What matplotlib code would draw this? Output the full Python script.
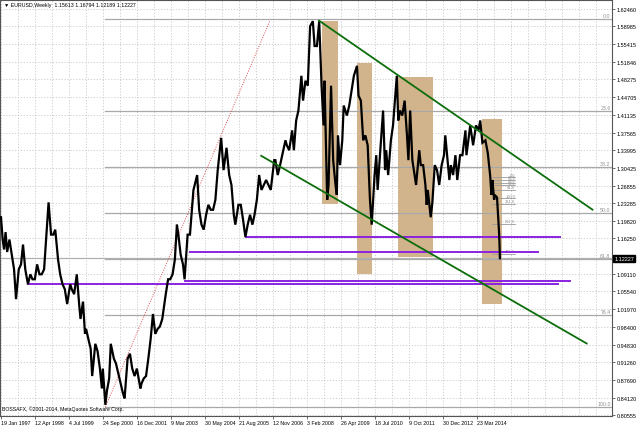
import matplotlib
matplotlib.use("Agg")
import matplotlib.pyplot as plt
import pandas as pd

START = pd.Timestamp("1997-01-19")


def wk(d):
    return (pd.Timestamp(d) - START).days / 7.0


# ---------------- data ----------------
price_dates = [
    "1997-01-19", "1997-02-10", "1997-02-28", "1997-03-20", "1997-04-10", "1997-05-10",
    "1997-06-10", "1997-07-10", "1997-08-05", "1997-09-10", "1997-10-10", "1997-11-05",
    "1997-12-05", "1998-01-09", "1998-02-10", "1998-03-10", "1998-04-10", "1998-05-10",
    "1998-06-10", "1998-07-10", "1998-08-10", "1998-09-10", "1998-10-08", "1998-11-10",
    "1998-12-10", "1999-01-04", "1999-02-10", "1999-03-10", "1999-04-10", "1999-05-10",
    "1999-06-10", "1999-07-20", "1999-08-10", "1999-09-10", "1999-10-15", "1999-11-15",
    "1999-12-03", "2000-01-05", "2000-01-31", "2000-02-15", "2000-03-15", "2000-04-15",
    "2000-05-05", "2000-06-15", "2000-07-15", "2000-08-15", "2000-09-10", "2000-09-22",
    "2000-10-26", "2000-11-15", "2000-12-15", "2001-01-05", "2001-02-15", "2001-03-15",
    "2001-04-15", "2001-05-15", "2001-06-15", "2001-07-06", "2001-08-15", "2001-09-15",
    "2001-10-15", "2001-11-15", "2001-12-15", "2002-01-31", "2002-02-15", "2002-03-15",
    "2002-04-15", "2002-05-15", "2002-06-15", "2002-07-15", "2002-08-15", "2002-09-15",
    "2002-10-15", "2002-11-15", "2002-12-31", "2003-01-31", "2003-02-28", "2003-03-31",
    "2003-04-30", "2003-05-27", "2003-06-15", "2003-07-15", "2003-08-15", "2003-09-05",
    "2003-10-15", "2003-11-15", "2003-12-31", "2004-02-18", "2004-03-15", "2004-04-15",
    "2004-05-14", "2004-06-15", "2004-07-15", "2004-08-15", "2004-09-15", "2004-10-15",
    "2004-11-15", "2004-12-30", "2005-01-31", "2005-03-11", "2005-04-15", "2005-05-15",
    "2005-06-15", "2005-07-05", "2005-08-15", "2005-09-15", "2005-10-15", "2005-11-15",
    "2005-12-15", "2006-01-15", "2006-02-15", "2006-03-15", "2006-04-15", "2006-05-15",
    "2006-06-15", "2006-07-15", "2006-08-15", "2006-09-15", "2006-10-15", "2006-11-30",
    "2006-12-15", "2007-01-15", "2007-02-15", "2007-03-15", "2007-04-27", "2007-05-15",
    "2007-06-15", "2007-07-24", "2007-08-16", "2007-09-15", "2007-10-15", "2007-11-23",
    "2007-12-15", "2008-01-15", "2008-02-15", "2008-03-17", "2008-04-22", "2008-05-15",
    "2008-06-15", "2008-07-15", "2008-08-15", "2008-09-10", "2008-09-23", "2008-10-28",
    "2008-11-15", "2008-12-18", "2009-01-15", "2009-02-15", "2009-03-04", "2009-03-19",
    "2009-04-15", "2009-05-15", "2009-06-03", "2009-07-15", "2009-08-15", "2009-09-15",
    "2009-10-15", "2009-11-25", "2009-12-15", "2010-01-15", "2010-02-15", "2010-03-15",
    "2010-04-15", "2010-05-15", "2010-06-07", "2010-07-15", "2010-08-06", "2010-08-24",
    "2010-09-15", "2010-11-04", "2010-11-30", "2010-12-15", "2011-01-10", "2011-02-15",
    "2011-03-15", "2011-05-04", "2011-05-23", "2011-06-15", "2011-07-15", "2011-08-15",
    "2011-09-15", "2011-10-04", "2011-10-27", "2011-11-25", "2011-12-15", "2012-01-13",
    "2012-02-24", "2012-03-15", "2012-04-15", "2012-05-15", "2012-06-01", "2012-06-15",
    "2012-07-24", "2012-08-15", "2012-09-15", "2012-10-15", "2012-11-13", "2012-12-15",
    "2013-01-15", "2013-02-01", "2013-03-27", "2013-04-15", "2013-05-15", "2013-06-15",
    "2013-07-09", "2013-08-15", "2013-09-15", "2013-10-25", "2013-11-07", "2013-12-27",
    "2014-02-03", "2014-03-13", "2014-04-15", "2014-05-08", "2014-06-05", "2014-07-15",
    "2014-08-15", "2014-09-15", "2014-10-03", "2014-10-15", "2014-11-07", "2014-11-15",
    "2014-12-15", "2015-01-02", "2015-01-09", "2015-01-16", "2015-01-22",
]
price_values = [
    1.205, 1.160, 1.140, 1.175, 1.135, 1.160,
    1.130, 1.100, 1.040, 1.100, 1.110, 1.150,
    1.100, 1.070, 1.090, 1.080, 1.080, 1.110,
    1.090, 1.090, 1.100, 1.170, 1.235, 1.170,
    1.170, 1.180, 1.120, 1.090, 1.070, 1.060,
    1.030, 1.070, 1.060, 1.050, 1.090, 1.030,
    1.000, 1.035, 0.970, 0.980, 0.960, 0.940,
    0.885, 0.950, 0.935, 0.900, 0.860, 0.900,
    0.827, 0.855, 0.880, 0.950, 0.920, 0.910,
    0.890, 0.870, 0.850, 0.840, 0.920, 0.930,
    0.900, 0.885, 0.900, 0.860, 0.870, 0.880,
    0.885, 0.920, 0.960, 1.010, 0.970, 0.980,
    0.985, 1.000, 1.050, 1.080, 1.080, 1.090,
    1.120, 1.190, 1.170, 1.130, 1.110, 1.080,
    1.170, 1.170, 1.260, 1.290, 1.220, 1.190,
    1.180, 1.210, 1.230, 1.220, 1.220, 1.240,
    1.300, 1.365, 1.300, 1.345, 1.290, 1.270,
    1.210, 1.190, 1.230, 1.230, 1.200, 1.165,
    1.190, 1.210, 1.190, 1.210, 1.240, 1.290,
    1.260, 1.270, 1.280, 1.270, 1.260, 1.320,
    1.320, 1.290, 1.310, 1.330, 1.360, 1.350,
    1.340, 1.380, 1.340, 1.400, 1.420, 1.490,
    1.440, 1.480, 1.470, 1.590, 1.600, 1.550,
    1.550, 1.600, 1.470, 1.390, 1.480, 1.240,
    1.270, 1.470, 1.320, 1.270, 1.250, 1.370,
    1.310, 1.360, 1.430, 1.410, 1.430, 1.460,
    1.490, 1.510, 1.450, 1.440, 1.360, 1.370,
    1.350, 1.240, 1.190, 1.290, 1.330, 1.260,
    1.310, 1.420, 1.300, 1.340, 1.290, 1.360,
    1.390, 1.490, 1.400, 1.420, 1.410, 1.440,
    1.370, 1.320, 1.420, 1.320, 1.300, 1.270,
    1.340, 1.310, 1.310, 1.270, 1.230, 1.260,
    1.205, 1.235, 1.310, 1.300, 1.270, 1.310,
    1.330, 1.370, 1.280, 1.310, 1.290, 1.330,
    1.280, 1.330, 1.330, 1.380, 1.330, 1.390,
    1.350, 1.390, 1.380, 1.400, 1.355, 1.360,
    1.335, 1.290, 1.250, 1.280, 1.240, 1.250,
    1.245, 1.200, 1.180, 1.156, 1.1223,
]

ytick_values = [1.62460, 1.58985, 1.55415, 1.51846, 1.48275, 1.44705, 1.41135, 1.37565,
                1.33995, 1.30425, 1.26855, 1.23285, 1.19820, 1.16250, 1.09110, 1.05540,
                1.01970, 0.98400, 0.94830, 0.91260, 0.87690, 0.84120, 0.80555]
ytick_labels = ["1.62460", "1.58985", "1.55415", "1.51846", "1.48275", "1.44705", "1.41135",
                "1.37565", "1.33995", "1.30425", "1.26855", "1.23285", "1.19820", "1.16250",
                "1.09110", "1.05540", "1.01970", "0.98400", "0.94830", "0.91260", "0.87690",
                "0.84120", "0.80555"]
xtick_dates = ["1997-01-19", "1998-04-12", "1999-07-04", "2000-09-24", "2001-12-16",
               "2003-03-09", "2004-05-30", "2005-08-21", "2006-11-12", "2008-02-03",
               "2009-04-26", "2010-07-18", "2011-10-09", "2012-12-30", "2014-03-23"]
xtick_labels = ["19 Jan 1997", "12 Apr 1998", "4 Jul 1999", "24 Sep 2000", "16 Dec 2001",
                "9 Mar 2003", "30 May 2004", "21 Aug 2005", "12 Nov 2006", "3 Feb 2008",
                "26 Apr 2009", "18 Jul 2010", "9 Oct 2011", "30 Dec 2012", "23 Mar 2014"]

bid_price = 1.12227
title_text = "\u25BC EURUSD,Weekly  1.15613 1.16794 1.12189 1.12227"
copyright_text = "BOSSAFX, \u00A92001-2014, MetaQuotes Software Corp."

# Fibonacci retracement (Oct 2000 low -> Jul 2008 high)
fib_start_date = "2000-10-26"
fib_levels = ["0.0", "23.6", "38.2", "50.0", "61.8", "76.4", "100.0"]
fib_prices = [1.6038, 1.4195, 1.3054, 1.2133, 1.1211, 1.0071, 0.8227]

# small Fibonacci set on the 2014 decline
sfib_start_date = "2014-10-05"
sfib_end_date = "2015-08-09"
sfib_levels = ["0.0", "23.6", "38.2", "50.0", "61.8", "100.0", "161.8", "261.8", "423.6"]
sfib_prices = [1.2860, 1.2806, 1.2746, 1.2691, 1.2605, 1.2439, 1.2323, 1.1923, 1.1316]

# Tan rectangles: (start date, end date, top price, bottom price)
box_start = ["2008-08-17", "2009-11-29", "2011-05-15", "2014-06-01"]
box_end = ["2009-03-15", "2010-06-13", "2012-08-19", "2015-02-22"]
box_top = [1.6011, 1.5160, 1.4884, 1.4033]
box_bottom = [1.2323, 1.0914, 1.1256, 1.0310]

# green channel lines: (date1, price1, date2, price2)
green_d1 = ["2008-07-13", "2006-06-11"]
green_p1 = [1.6011, 1.3288]
green_d2 = ["2018-05-27", "2018-03-11"]
green_p2 = [1.2202, 0.9506]

# red dotted trend line
red_d = ["2000-10-26", "2006-10-01"]
red_p = [0.8227, 1.6000]

# purple horizontal lines: (start date, end date, price)
purple_start = ["1998-01-11", "2003-09-07", "2003-11-16", "2005-11-20"]
purple_end = ["2017-02-26", "2017-08-06", "2016-06-05", "2017-03-26"]
purple_price = [1.0713, 1.0770, 1.1357, 1.1659]

# ---------------- drawing ----------------
FONT = "Liberation Sans"
W, H = 640, 427
fig = plt.figure(figsize=(W / 100, H / 100), dpi=100)
ax = fig.add_axes([0, 10 / H, 612 / W, 416 / H])
ax.set_xlim(-1.9, 1150.7)
ax.set_ylim(0.8045, 1.6427)

grid_col = "#C8C8C8"
for v in ytick_values:
    ax.axhline(v, color=grid_col, lw=0.6, ls=(0, (1.5, 2)), zorder=0)
xt = [wk(d) for d in xtick_dates]
for x in xt:
    ax.axvline(x, color=grid_col, lw=0.6, ls=(0, (1.5, 2)), zorder=0)
    ax.axvline(x + 32, color=grid_col, lw=0.6, ls=(0, (1.5, 2)), zorder=0)
x = xt[-1] + 64
while x < 1150:
    ax.axvline(x, color=grid_col, lw=0.6, ls=(0, (1.5, 2)), zorder=0)
    x += 32

# rectangles
for s, e, t, b in zip(box_start, box_end, box_top, box_bottom):
    ax.fill_between([wk(s), wk(e)], [b, b], [t, t], color="#D2B48C", lw=0, zorder=1)

# fib retracement
fx0 = wk(fib_start_date)
for lvl, p in zip(fib_levels, fib_prices):
    ax.plot([fx0, 1150.7], [p, p], color="#A8A8A8", lw=0.9, zorder=2)
    ax.text(1148, p + 0.002, lvl, fontsize=3.8, family=FONT, color="#909090",
            ha="right", va="bottom", zorder=3)

# small fib set
sx0, sx1 = wk(sfib_start_date), wk(sfib_end_date)
for lvl, p in zip(sfib_levels, sfib_prices):
    ax.plot([sx0, sx1], [p, p], color="#9A9A9A", lw=0.6, zorder=2)
    ax.text(sx1, p + 0.0008, lvl, fontsize=2.8, family=FONT, color="#8A8A8A",
            ha="right", va="bottom", zorder=3)

# bid line
ax.axhline(bid_price, color="#B0B0B0", lw=0.9, zorder=2)

# red dotted
ax.plot([wk(d) for d in red_d], red_p, color="#E05050", lw=0.7, ls=(0, (1, 1.5)), zorder=2)

# purple lines
for s, e, p in zip(purple_start, purple_end, purple_price):
    ax.plot([wk(s), wk(e)], [p, p], color="#8B22E0", lw=1.4, zorder=3)

# price
ax.plot([wk(d) for d in price_dates], price_values, color="black", lw=1.6, zorder=4,
        solid_joinstyle="miter")

# green channel
for d1, p1, d2, p2 in zip(green_d1, green_p1, green_d2, green_p2):
    ax.plot([wk(d1), wk(d2)], [p1, p2], color="#0B6E0B", lw=1.3, zorder=5)

# axes styling
for sp in ax.spines.values():
    sp.set_color("#555555")
    sp.set_linewidth(0.8)
ax.yaxis.tick_right()
ax.set_yticks(ytick_values)
ax.set_yticklabels(ytick_labels, fontsize=4.0, family=FONT)
ax.set_xticks(xt)
ax.set_xticklabels(xtick_labels, fontsize=3.8, family=FONT)
for lbl in ax.get_xticklabels():
    lbl.set_ha("left")
ax.tick_params(axis="both", length=2, width=0.6, color="#555555", pad=1.2)

# current price label
ax.text(1.004, bid_price, "1.12227", transform=ax.get_yaxis_transform(), fontsize=4.0,
        family=FONT, color="white", va="center", ha="left",
        bbox=dict(boxstyle="square,pad=0.2", fc="black", ec="black"), zorder=10, clip_on=False)

ax.text(0.006, 0.996, title_text, transform=ax.transAxes, fontsize=3.8,
        family=[FONT, "DejaVu Sans"], va="top", ha="left")
ax.text(0.004, 0.012, copyright_text, transform=ax.transAxes, fontsize=3.7, family=FONT,
        va="bottom", ha="left")

fig.savefig("out.png", dpi=100)
